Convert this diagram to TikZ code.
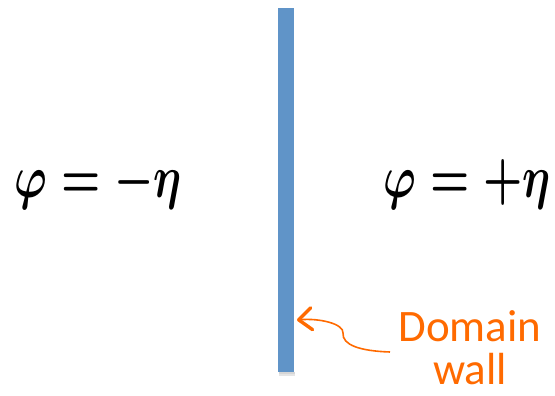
\documentclass[tikz,border=0pt]{standalone}
\usepackage{graphicx}
\usepackage{fontspec}
\setmainfont{Carlito}
\usetikzlibrary{arrows.meta}
\definecolor{wallblue}{RGB}{96,148,200}
\definecolor{wallorange}{RGB}{255,106,0}
\newcommand{\bigeq}[1]{\scalebox{4.4}[6.0]{\boldmath$#1$}}
\tikzset{
  eqlabel/.style={anchor=center, inner sep=0pt},
  annot/.style={text=wallorange, align=center, inner sep=0pt, font=\fontsize{45}{43}\selectfont},
  pointer/.style={draw=wallorange, line width=1.6pt, -{Straight Barb[length=13pt,width=22pt,line width=3.4pt,round]}}
}
\begin{document}
\begin{tikzpicture}[x=1pt,y=-1pt]
\useasboundingbox (0,0) rectangle (555,396);
% shadow
\fill[black!10] (278.5,372) rectangle (295,376);
\fill[black!16] (279,372) rectangle (294.5,374);
% wall
\node[fill=wallblue, minimum width=16pt, minimum height=364pt, inner sep=0pt, anchor=north west] (wall) at (278,8) {};
\node[eqlabel] (left) at (98,184) {\bigeq{\varphi = -\eta}};
\node[eqlabel] (right) at (467,184) {\bigeq{\varphi = +\eta}};
\node[annot] (label) at (470,348) {Domain\\wall};
\coordinate (tail) at (390,352);
\coordinate (tip) at (297,320);
\draw[pointer] (tail) .. controls (360,351) and (342,345) .. (343,333) .. controls (344,324) and (320,318) .. (tip);
\end{tikzpicture}
\end{document}
